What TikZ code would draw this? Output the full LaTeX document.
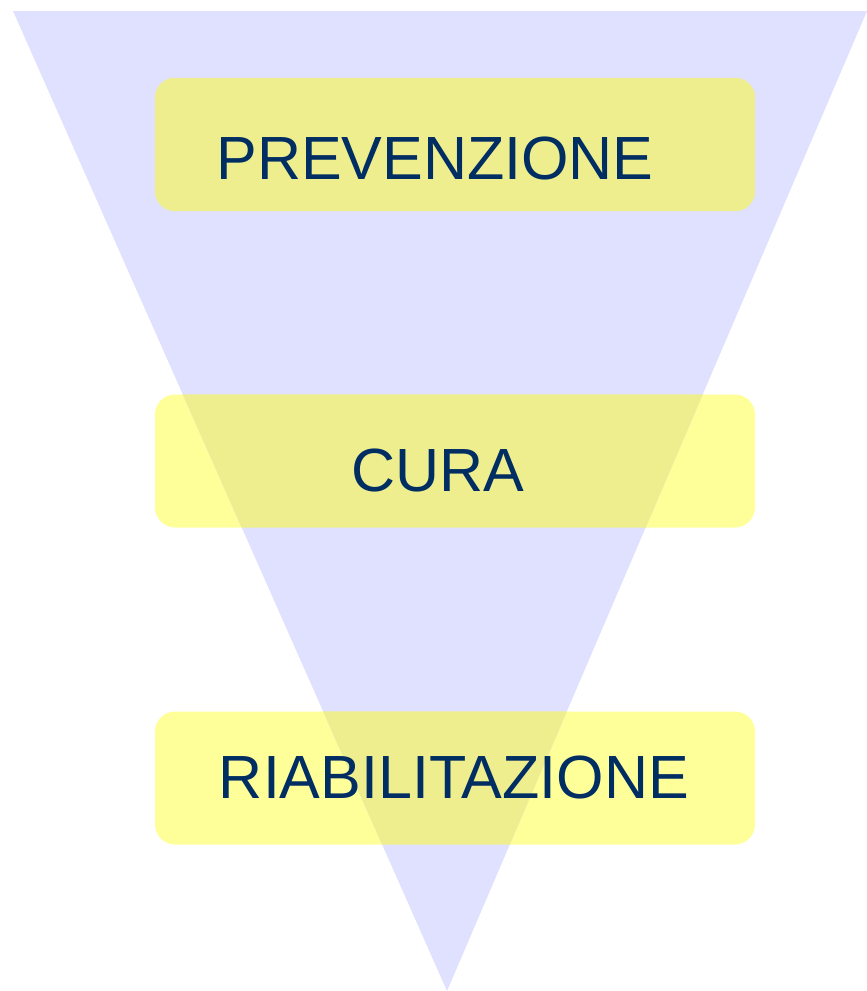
\documentclass[tikz,border=0pt]{standalone}
\usepackage{fontspec}
\setmainfont{Liberation Sans}
\usepackage{tikz}
\usetikzlibrary{positioning}
\usepackage{xcolor}
\definecolor{funnelcolor}{RGB}{224,224,255}
\definecolor{boxcolor}{RGB}{255,255,153}
\definecolor{overlapcolor}{RGB}{238,238,143}
\definecolor{labelcolor}{RGB}{0,45,98}

\begin{document}
\begin{tikzpicture}[x=1pt, y=-1pt,
    levelbox/.style={rounded corners=20pt, minimum width=600pt, minimum height=133pt, inner sep=0pt},
    levellabel/.style={font=\fontsize{61}{61}\selectfont, text=labelcolor, inner sep=0pt}]
        \useasboundingbox (0,0) rectangle (867,991);

        % boxes
        \node[levelbox,fill=boxcolor] (prev) at (455,144.5) {};
        \node[levelbox,fill=boxcolor] (cura) at (455,461) {};
        \node[levelbox,fill=boxcolor] (riab) at (455,778) {};

        % funnel
        \coordinate (tl) at (13,11);
        \coordinate (tr) at (867,11);
        \coordinate (tip) at (447,991);
        \fill[funnelcolor] (tl) -- (tr) -- (tip) -- cycle;

        % overlap of funnel and boxes
        \begin{scope}
          \clip (tl) -- (tr) -- (tip) -- cycle;
          \foreach \b in {prev,cura,riab} {
            \fill[overlapcolor,rounded corners=20pt] (\b.north west) rectangle (\b.south east);
          }
        \end{scope}

        % labels
        \node[levellabel] (prevtext) at (435,158) {PREVENZIONE};
        \node[levellabel] (curatext) at (438,470) {CURA};
        \node[levellabel] (riabtext) at (454,777) {RIABILITAZIONE};
      \end{tikzpicture}
\end{document}
